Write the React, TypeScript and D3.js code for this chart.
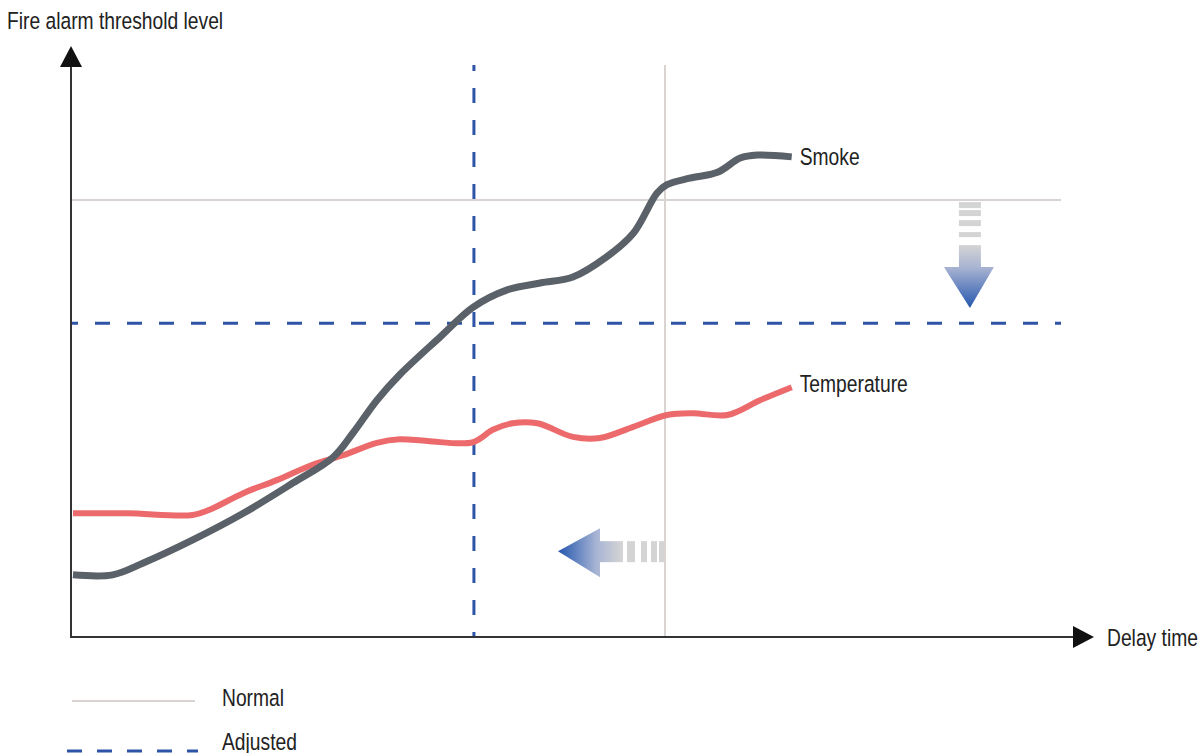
import React from 'react'
import * as d3 from 'd3'

// delay time (0-100) vs. threshold level (0-100)
const smokeX = [0.2, 4.2, 7.3, 12.3, 17.4, 22.4, 26.5, 28.5, 30.9, 33.2, 37.3, 40.6, 44.0, 47.4, 50.7, 54.1, 56.8, 59.2, 60.2, 62.5, 65.3, 67.6, 69.3, 72.8]
const smokeY = [10.5, 10.5, 12.5, 16.4, 20.9, 26.0, 30.4, 34.5, 40.0, 44.3, 50.7, 55.7, 58.6, 59.8, 60.8, 64.2, 68.2, 75.0, 76.4, 77.5, 78.5, 80.9, 81.4, 81.1]
const tempX = [0.2, 5.7, 12.3, 14.0, 17.4, 20.8, 24.4, 27.5, 30.9, 33.2, 36.0, 40.6, 42.6, 44.6, 47.1, 50.7, 53.4, 56.8, 60.2, 62.8, 66.3, 69.6, 72.8]
const tempY = [20.9, 20.9, 20.6, 21.5, 24.3, 26.5, 29.1, 30.7, 32.8, 33.4, 33.1, 32.9, 35.0, 36.1, 36.1, 33.8, 33.6, 35.5, 37.5, 37.8, 37.5, 40.0, 42.2]

const normalLevel = 73.8
const adjustedLevel = 53.0
const normalDelay = 60.0
const adjustedDelay = 40.7

const seriesLabels = ['Smoke', 'Temperature']
const legendLabels = ['Normal', 'Adjusted']

const W = 1203
const H = 753
const FONT = '"Liberation Sans", Arial, sans-serif'
const FS = 23.5

const NORMAL_COLOR = '#d9d3d1'
const ADJ_COLOR = '#2d54a6'

// narrow-looking label: tall glyphs squeezed horizontally
const Label = ({ x, y, children }: { x: number; y: number; children: React.ReactNode }) => (
    <g transform={`translate(${x},${y}) scale(0.82,1)`}>
        <text x={0} y={0} fontSize={FS} fill="#222">
            {children}
        </text>
    </g>
)

export default function App() {
    const x = d3.scaleLinear().domain([0, 100]).range([71, 1061])
    const y = d3.scaleLinear().domain([0, 100]).range([637, 45])

    const line = d3
        .line<[number, number]>()
        .x((d) => x(d[0]))
        .y((d) => y(d[1]))
        .curve(d3.curveCatmullRom.alpha(0.5))

    const smoke = smokeX.map((v, i) => [v, smokeY[i]] as [number, number])
    const temp = tempX.map((v, i) => [v, tempY[i]] as [number, number])

    const x0 = x(0)
    const y0 = y(0)
    const yTop = 65

    // down arrow (normal level -> adjusted level)
    const dx = x(90.8)
    const dTop = y(normalLevel)
    // left arrow (normal delay -> shorter delay)
    const ly = y(14.5)
    const lRight = x(normalDelay)

    const smokeEnd = smoke[smoke.length - 1]
    const tempEnd = temp[temp.length - 1]

    return (
        <svg
            width={W}
            height={H}
            style={{ position: 'absolute', left: 0, top: 0, background: '#fff' }}
            fontFamily={FONT}
        >
            <defs>
                <linearGradient id="downGrad" gradientUnits="userSpaceOnUse" x1="0" y1={dTop + 45} x2="0" y2={dTop + 108}>
                    <stop offset="0" stopColor="#d4d4d4" />
                    <stop offset="0.35" stopColor="#a9b4d2" />
                    <stop offset="1" stopColor="#2456ae" />
                </linearGradient>
                <linearGradient id="leftGrad" gradientUnits="userSpaceOnUse" x1={lRight - 107} y1="0" x2={lRight - 43} y2="0">
                    <stop offset="0" stopColor="#2456ae" />
                    <stop offset="0.6" stopColor="#a7b4d4" />
                    <stop offset="1" stopColor="#d4d4d4" />
                </linearGradient>
            </defs>

            {/* normal thresholds */}
            <line x1={x0} x2={x(100)} y1={y(normalLevel)} y2={y(normalLevel)} stroke={NORMAL_COLOR} strokeWidth={2} />
            <line x1={x(normalDelay)} x2={x(normalDelay)} y1={yTop} y2={y0} stroke={NORMAL_COLOR} strokeWidth={2} />

            {/* adjusted thresholds */}
            <line
                x1={x0}
                x2={x(100)}
                y1={y(adjustedLevel)}
                y2={y(adjustedLevel)}
                stroke={ADJ_COLOR}
                strokeWidth={3}
                strokeDasharray="15 17"
                strokeDashoffset={8}
            />
            <line
                x1={x(adjustedDelay)}
                x2={x(adjustedDelay)}
                y1={yTop}
                y2={y0}
                stroke={ADJ_COLOR}
                strokeWidth={3}
                strokeDasharray="15 17"
                strokeDashoffset={9}
            />

            {/* down arrow */}
            <g>
                {[2, 10, 20, 32].map((o, i) => (
                    <rect key={i} x={dx - 11} y={dTop + o} width={22} height={i === 3 ? 5 : 6} fill="#d4d4d4" />
                ))}
                <rect x={dx - 11} y={dTop + 45} width={22} height={23} fill="url(#downGrad)" />
                <path d={`M${dx - 26},${dTop + 67} L${dx + 24},${dTop + 67} L${dx},${dTop + 108} Z`} fill="url(#downGrad)" />
            </g>

            {/* left arrow */}
            <g>
                {[
                    [1, 5],
                    [8, 6],
                    [18, 6],
                    [30, 8],
                ].map(([o, w], i) => (
                    <rect key={i} x={lRight - o - w} y={ly - 10} width={w} height={21} fill="#d4d4d4" />
                ))}
                <rect x={lRight - 66} y={ly - 10} width={24} height={21} fill="url(#leftGrad)" />
                <path d={`M${lRight - 65},${ly - 23} L${lRight - 65},${ly + 26} L${lRight - 107},${ly} Z`} fill="url(#leftGrad)" />
            </g>

            {/* series */}
            <path d={line(temp) ?? ''} fill="none" stroke="#ec6a6c" strokeWidth={6} />
            <path d={line(smoke) ?? ''} fill="none" stroke="#5b6169" strokeWidth={7} />

            <Label x={x(smokeEnd[0]) + 8} y={y(smokeEnd[1]) + 8}>
                {seriesLabels[0]}
            </Label>
            <Label x={x(tempEnd[0]) + 8} y={y(tempEnd[1]) + 5}>
                {seriesLabels[1]}
            </Label>

            {/* axes */}
            <line x1={x0} x2={x0} y1={y0 + 1} y2={64} stroke="#333" strokeWidth={2} />
            <path d={`M${x0 - 11},67 L${x0 + 11},67 L${x0},46 Z`} fill="#111" />
            <line x1={x0 - 1} x2={1075} y1={y0} y2={y0} stroke="#333" strokeWidth={2} />
            <path d={`M1073,${y0 - 11} L1073,${y0 + 11} L1094,${y0} Z`} fill="#111" />

            <Label x={7} y={29}>
                Fire alarm threshold level
            </Label>
            <Label x={1107} y={646}>
                Delay time
            </Label>

            {/* legend */}
            <line x1={72} x2={195} y1={701} y2={701} stroke={NORMAL_COLOR} strokeWidth={2} />
            <Label x={222} y={706}>
                {legendLabels[0]}
            </Label>
            <line x1={67} x2={198} y1={751} y2={751} stroke={ADJ_COLOR} strokeWidth={3} strokeDasharray="15 15" />
            <Label x={222} y={750}>
                {legendLabels[1]}
            </Label>
        </svg>
    )
}
